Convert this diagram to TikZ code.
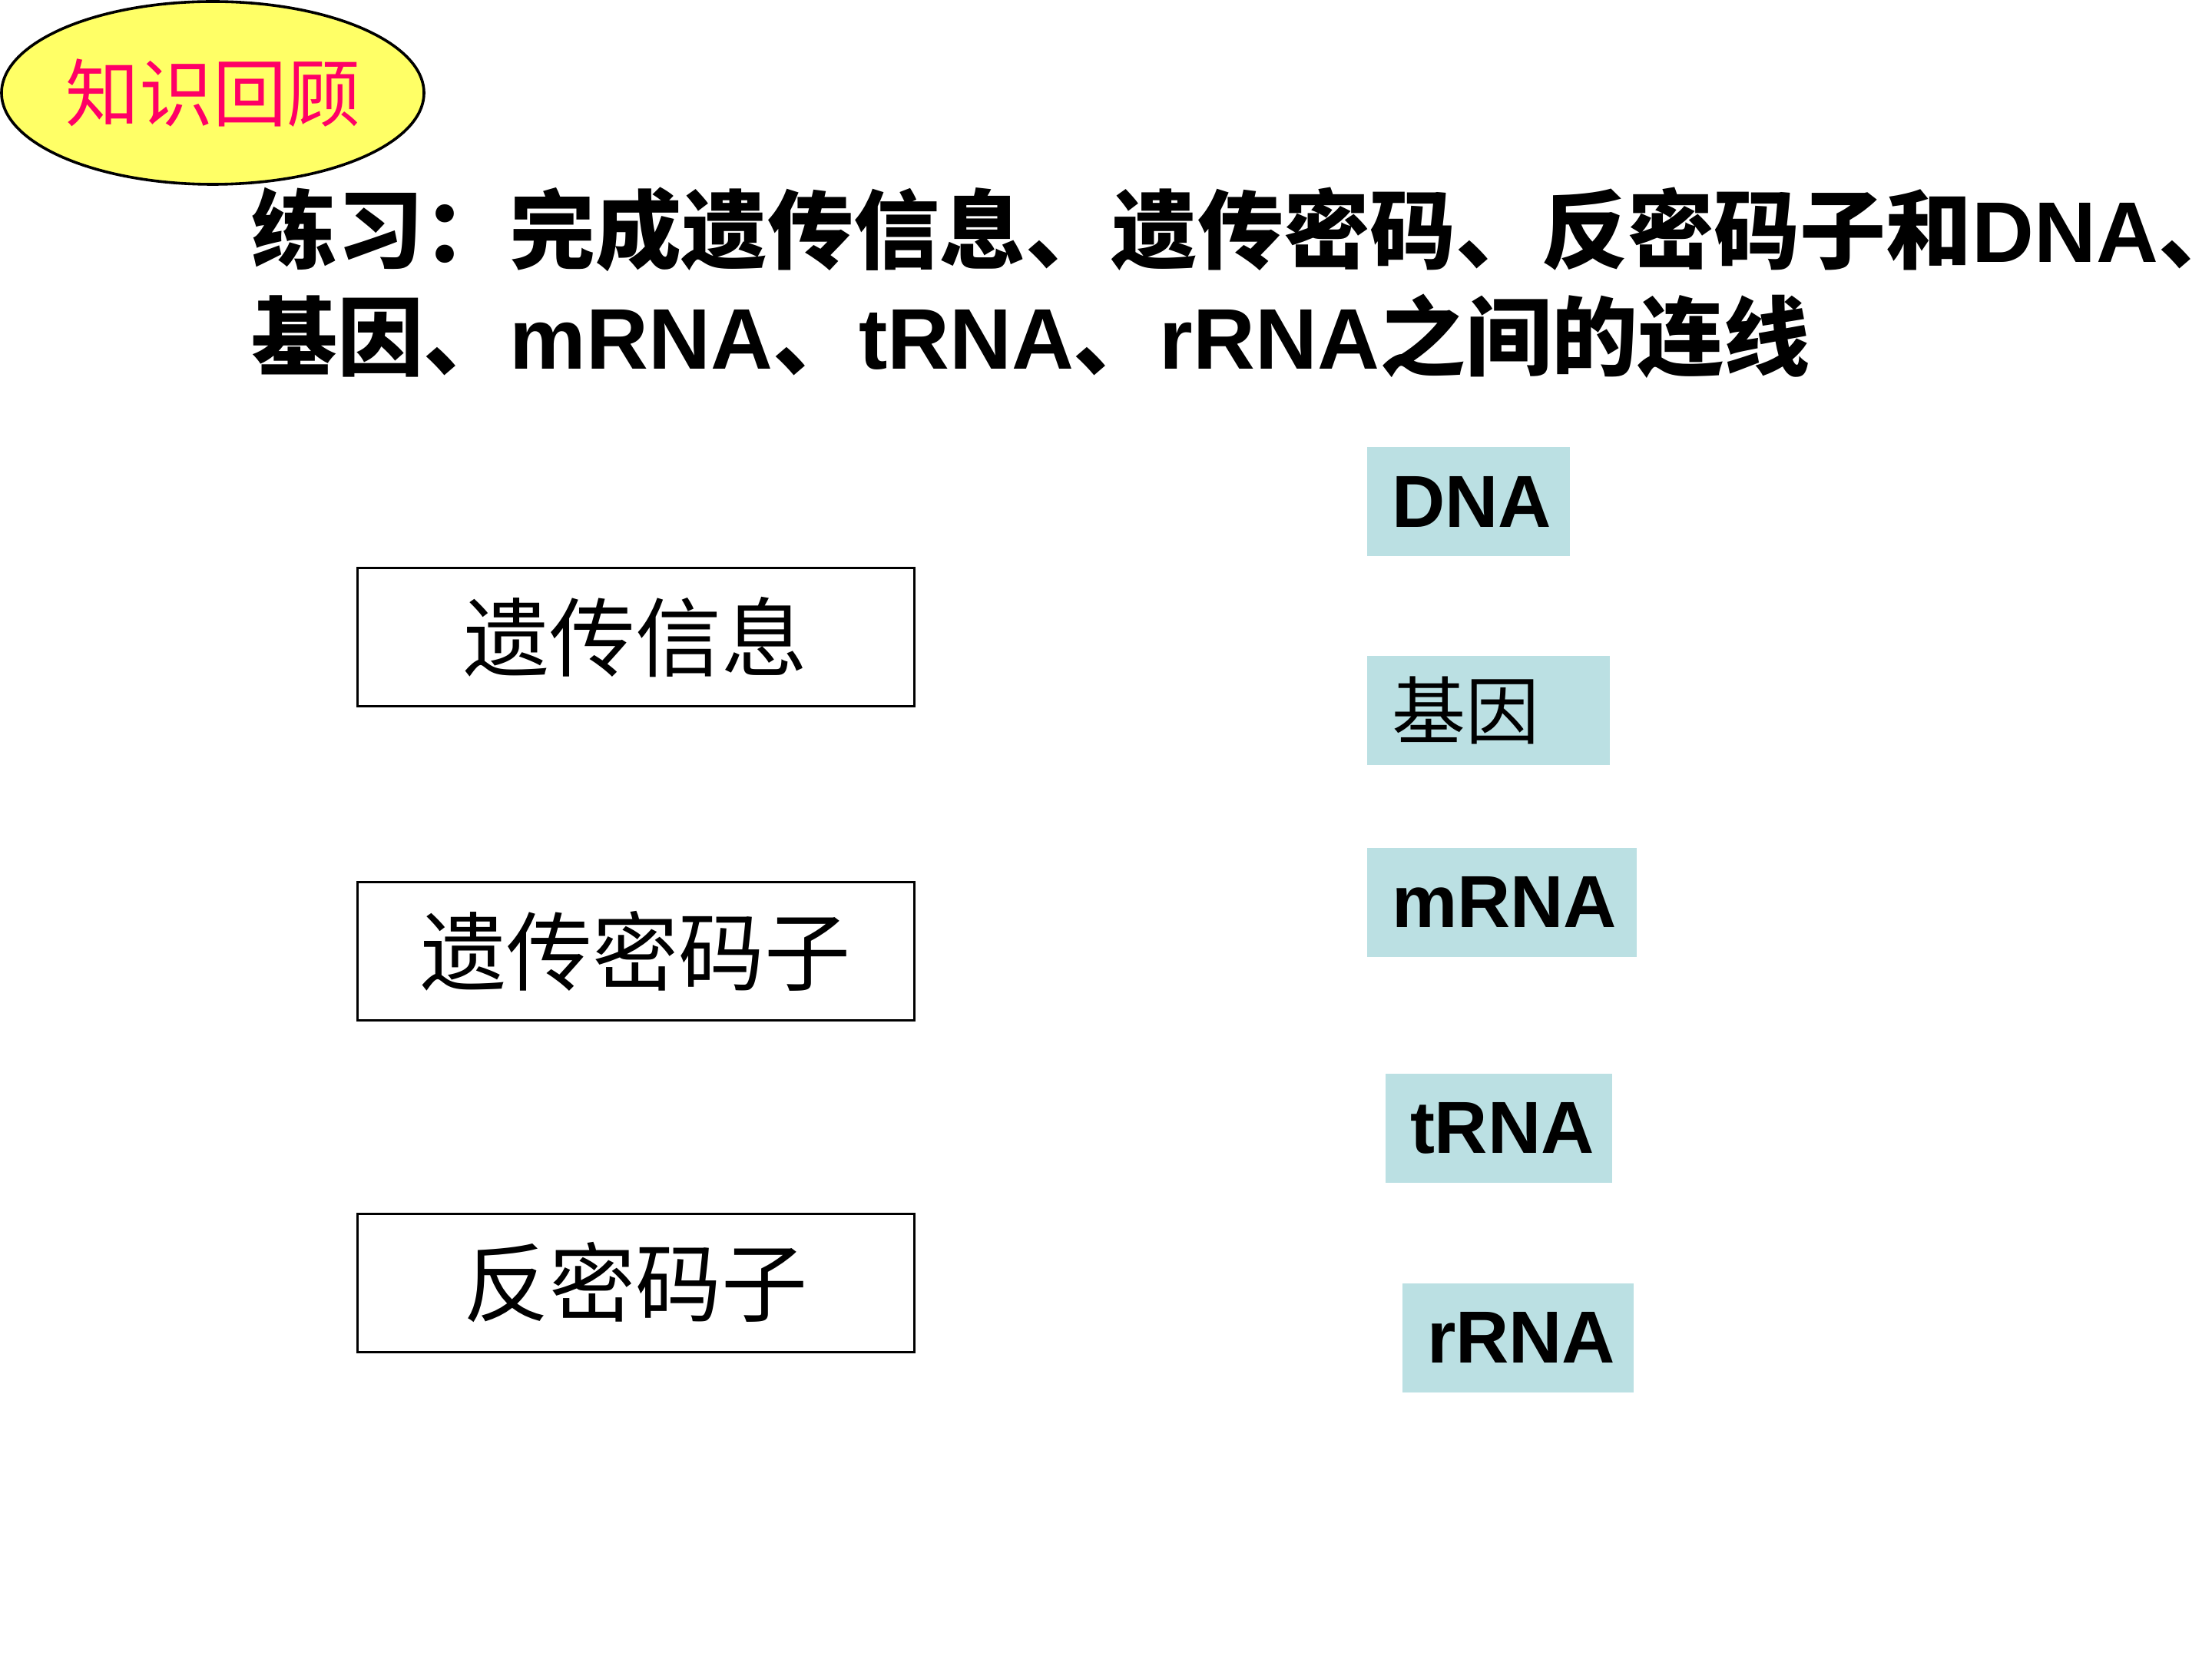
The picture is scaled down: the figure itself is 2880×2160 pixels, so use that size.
\documentclass[tikz,border=0pt]{standalone}
\usepackage{fontspec}
\setmainfont{Liberation Sans}
\newfontfamily\cjk{Noto Sans CJK SC}
\usetikzlibrary{shapes.geometric}
\definecolor{lblue}{RGB}{187,224,227}
\definecolor{ovalyellow}{RGB}{255,255,102}
\definecolor{rosered}{RGB}{255,0,102}
\tikzset{
  leftbox/.style={draw=black, line width=0.75pt, fill=white, minimum width=181.25pt, minimum height=45pt, inner sep=0pt, font=\fontsize{28}{32}\selectfont\cjk},
  rbox/.style={fill=lblue, draw=none, minimum height=35.5pt, inner xsep=8pt, inner ysep=0pt, align=left, font=\fontsize{24}{28}\selectfont\bfseries},
  titletext/.style={anchor=base west, inner sep=0pt, font=\fontsize{28}{34}\selectfont\bfseries}
}
\begin{document}
\begin{tikzpicture}[x=0.25pt,y=-0.25pt]
\clip (0,0) rectangle (2880,2160);
\fill[white] (0,0) rectangle (2880,2160);
% oval
\node[ellipse, draw=black, line width=0.9pt, fill=ovalyellow, minimum width=137.5pt, minimum height=59.5pt, inner sep=0pt,
      text=rosered, font=\fontsize{24}{28}\selectfont\cjk] (oval) at (277,121) {知识回顾};
% title
\node[titletext] (t1) at (327,342) {{\cjk 练习：完成遗传信息、遗传密码、反密码子和}DNA{\cjk 、}};
\node[titletext] (t2) at (327,481) {{\cjk 基因、}mRNA{\cjk 、}tRNA{\cjk 、}rRNA{\cjk 之间的连线}};
% left boxes
\node[leftbox] (info) at (827.5,830) {遗传信息};
\node[leftbox] (codon) at (827.5,1238) {遗传密码子};
\node[leftbox] (anticodon) at (827.5,1670) {反密码子};
% right boxes
\node[rbox, text width=50pt] (dna) at (1912,653) {DNA};
\node[rbox, text width=63pt, font=\fontsize{24}{28}\selectfont\cjk] (gene) at (1938,925) {基因};
\node[rbox, text width=71.75pt] (mrna) at (1955.5,1174.5) {mRNA};
\node[rbox, text width=57.75pt] (trna) at (1951.5,1468.5) {tRNA};
\node[rbox, text width=59.25pt] (rrna) at (1976.5,1741.5) {rRNA};
\end{tikzpicture}
\end{document}
